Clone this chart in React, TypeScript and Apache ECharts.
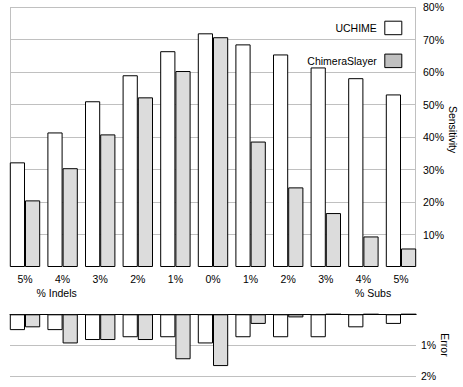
import React, { useEffect, useRef } from "react";
import * as echarts from "echarts";

const categories = ["Indels 5%", "Indels 4%", "Indels 3%", "Indels 2%", "Indels 1%", "0%", "Subs 1%", "Subs 2%", "Subs 3%", "Subs 4%", "Subs 5%"];
const tickLabels = ["5%", "4%", "3%", "2%", "1%", "0%", "1%", "2%", "3%", "4%", "5%"];
const uchimeSensitivity = [32.2, 41.4, 51.0, 59.0, 66.4, 71.9, 68.5, 65.4, 61.4, 58.1, 53.1];
const slayerSensitivity = [20.5, 30.4, 40.8, 52.2, 60.3, 70.7, 38.6, 24.5, 16.6, 9.4, 5.7];
const uchimeError = [0.51, 0.51, 0.83, 0.74, 0.74, 0.94, 0.74, 0.74, 0.74, 0.42, 0.31];
const slayerError = [0.42, 0.94, 0.83, 0.83, 1.45, 1.67, 0.31, 0.1, 0, 0, 0];
const sensitivityTicks = [0, 80, 10];
const errorTicks = [0, 2, 1];

const FONT = "'Liberation Sans', Arial, sans-serif";

export default function App() {
  const ref = useRef<HTMLDivElement>(null);
  useEffect(() => {
    if (!ref.current) return;
    const chart = echarts.init(ref.current, undefined, { renderer: "svg" });
    const grey = "#c0c0c0";
    const barW = 15.2;
    const option: any = {
      animation: false,
      backgroundColor: "#ffffff",
      textStyle: { fontFamily: FONT },
      legend: {
        orient: "vertical",
        right: 55.7,
        top: 15.7,
        align: "right",
        itemWidth: 17,
        itemHeight: 13.5,
        itemGap: 18.4,
        selectedMode: false,
        icon: "rect",
        textStyle: { fontFamily: FONT, fontSize: 10.5, color: "#000", padding: [0, 3, 0, 0] },
        data: [
          { name: "UCHIME", itemStyle: { color: "#ffffff", borderColor: "#000", borderWidth: 1 } },
          { name: "ChimeraSlayer", itemStyle: { color: "#c0c0c0", borderColor: "#000", borderWidth: 1 } },
        ],
      },
      grid: [
        { left: 6.2, top: 7, width: 413.6, height: 260 },
        { left: 10, top: 7, width: 405, height: 260 },
        { left: 6.2, top: 314.3, width: 413.6, height: 62 },
        { left: 10, top: 314.3, width: 406, height: 62 },
      ],
      xAxis: [
        {
          type: "category",
          gridIndex: 0,
          data: categories,
          axisLine: { show: false },
          axisTick: { show: false },
          axisLabel: {
            margin: 6,
            fontSize: 10.5,
            color: "#000",
            fontFamily: FONT,
            interval: 0,
            formatter: (_v: string, i: number) => tickLabels[i],
          },
        },
        {
          type: "value",
          gridIndex: 1,
          min: 0,
          max: 1,
          interval: 1,
          axisLine: { show: false },
          axisTick: { show: false },
          axisLabel: { show: false },
          splitLine: { show: true, lineStyle: { color: grey, width: 1 } },
        },
        {
          type: "category",
          gridIndex: 2,
          data: categories,
          show: false,
        },
        {
          type: "value",
          gridIndex: 3,
          min: 0,
          max: 1,
          position: "top",
          axisLine: { show: true, lineStyle: { color: "#000", width: 1 } },
          axisTick: { show: false },
          axisLabel: { show: false },
          splitLine: { show: false },
        },
      ],
      yAxis: [
        { type: "value", gridIndex: 0, min: sensitivityTicks[0], max: sensitivityTicks[1], show: false },
        {
          type: "value",
          gridIndex: 1,
          min: sensitivityTicks[0],
          max: sensitivityTicks[1],
          interval: sensitivityTicks[2],
          position: "right",
          axisLine: { show: false },
          axisTick: { show: false },
          axisLabel: {
            margin: 8,
            fontSize: 10.5,
            color: "#000",
            fontFamily: FONT,
            showMinLabel: false,
            formatter: (v: number) => (v === 0 ? "" : v + "%"),
          },
          splitLine: { show: true, showMinLine: false, lineStyle: { color: grey, width: 1 } },
        },
        { type: "value", gridIndex: 2, min: errorTicks[0], max: errorTicks[1], inverse: true, show: false },
        {
          type: "value",
          gridIndex: 3,
          min: errorTicks[0],
          max: errorTicks[1],
          interval: errorTicks[2],
          inverse: true,
          position: "right",
          axisLine: { show: false },
          axisTick: { show: false },
          axisLabel: {
            margin: 5,
            fontSize: 10.5,
            color: "#000",
            fontFamily: FONT,
            showMinLabel: false,
            formatter: (v: number) => (v === 0 ? "" : v + "%"),
          },
          splitLine: { show: true, showMinLine: false, lineStyle: { color: grey, width: 1 } },
        },
      ],
      series: [
        {
          name: "UCHIME",
          type: "bar",
          xAxisIndex: 0,
          yAxisIndex: 0,
          data: uchimeSensitivity,
          barWidth: barW,
          barGap: "0%",
          itemStyle: { color: "#ffffff", borderColor: "#000", borderWidth: 1 },
          z: 3,
        },
        {
          name: "ChimeraSlayer",
          type: "bar",
          xAxisIndex: 0,
          yAxisIndex: 0,
          data: slayerSensitivity,
          barWidth: barW,
          barGap: "0%",
          itemStyle: { color: "#dcdcdc", borderColor: "#000", borderWidth: 1 },
          z: 3,
        },
        {
          name: "UCHIME error",
          type: "bar",
          xAxisIndex: 2,
          yAxisIndex: 2,
          data: uchimeError,
          barWidth: barW,
          barGap: "0%",
          itemStyle: { color: "#ffffff", borderColor: "#000", borderWidth: 1 },
          z: 3,
        },
        {
          name: "ChimeraSlayer error",
          type: "bar",
          xAxisIndex: 2,
          yAxisIndex: 2,
          data: slayerError,
          barWidth: barW,
          barGap: "0%",
          itemStyle: { color: "#dcdcdc", borderColor: "#000", borderWidth: 1 },
          z: 3,
        },
      ],
      graphic: [
        { type: "text", left: 36.5, top: 287, style: { text: "% Indels", fontSize: 10.5, fontFamily: FONT, fill: "#000" } },
        { type: "text", left: 355, top: 287, style: { text: "% Subs", fontSize: 10.5, fontFamily: FONT, fill: "#000" } },
        {
          type: "text",
          x: 453,
          y: 129.5,
          rotation: -Math.PI / 2,
          style: { text: "Sensitivity", fontSize: 10.5, fontFamily: FONT, fill: "#000", align: "center", verticalAlign: "middle" },
        },
        {
          type: "text",
          x: 445,
          y: 345,
          rotation: -Math.PI / 2,
          style: { text: "Error", fontSize: 10.5, fontFamily: FONT, fill: "#000", align: "center", verticalAlign: "middle" },
        },
      ],
    };
    chart.setOption(option);
    return () => chart.dispose();
  }, []);
  return <div ref={ref} style={{ position: "fixed", left: 0, top: 0, width: 463, height: 387 }} />;
}
